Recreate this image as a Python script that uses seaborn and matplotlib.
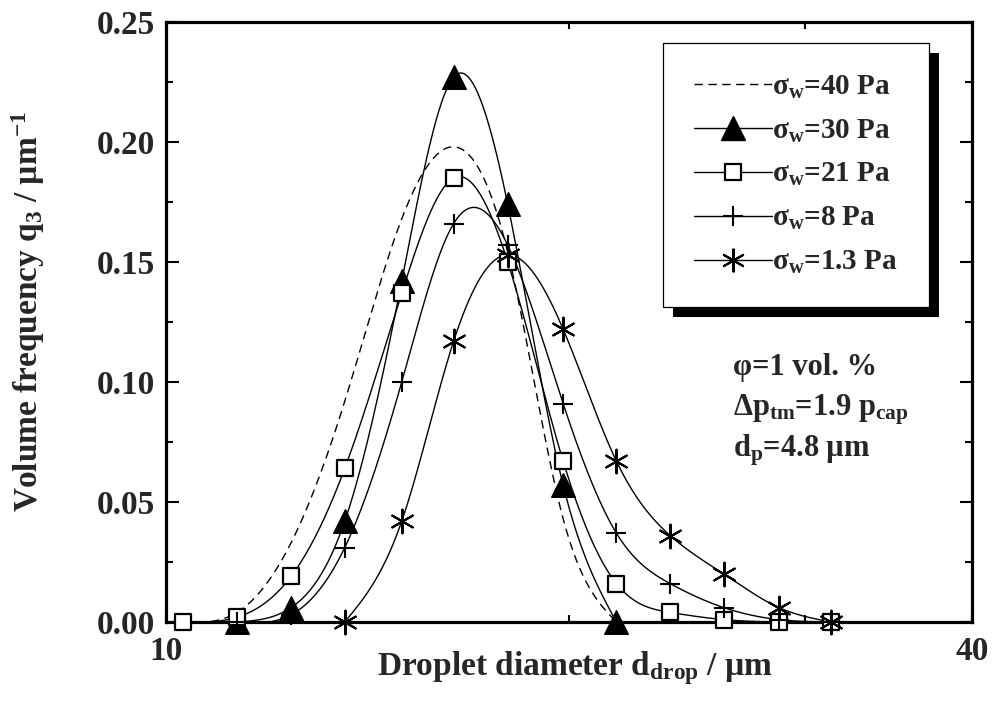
import numpy as np
import pandas as pd
import matplotlib
matplotlib.use("Agg")
import matplotlib.pyplot as plt
import seaborn as sns
from matplotlib.lines import Line2D
from matplotlib.patches import Rectangle
from matplotlib.ticker import FixedLocator, NullFormatter, MultipleLocator, FormatStrFormatter

# ---------------- data ----------------
diameters = [10.3, 11.3, 12.4, 13.6, 15.0, 16.4, 18.0, 19.8, 21.7, 23.8, 26.1, 28.7, 31.4]

d_40 = diameters[0:9]
q_40 = [0.000, 0.004, 0.033, 0.092, 0.168, 0.198, 0.154, 0.043, 0.000]

d_30 = diameters[1:9]
q_30 = [0.000, 0.006, 0.042, 0.142, 0.227, 0.174, 0.057, 0.000]

d_21 = diameters[0:13]
q_21 = [0.000, 0.002, 0.019, 0.064, 0.137, 0.185, 0.150, 0.067, 0.016, 0.004, 0.001, 0.000, 0.000]

d_8 = diameters[1:13]
q_8 = [0.000, 0.003, 0.031, 0.100, 0.166, 0.157, 0.091, 0.037, 0.016, 0.006, 0.001, 0.000]

d_13 = diameters[3:13]
q_13 = [0.000, 0.042, 0.117, 0.153, 0.122, 0.067, 0.036, 0.020, 0.006, 0.000]

series_labels = [r"$\mathregular{σ_w}$=40 Pa", r"$\mathregular{σ_w}$=30 Pa",
                 r"$\mathregular{σ_w}$=21 Pa", r"$\mathregular{σ_w}$=8 Pa",
                 r"$\mathregular{σ_w}$=1.3 Pa"]
x_tick_labels = ["10", "40"]

# ---------------- style ----------------
sns.set_style("ticks")
plt.rcParams["font.family"] = ["Liberation Serif", "DejaVu Serif"]
plt.rcParams["font.weight"] = "bold"
plt.rcParams["axes.labelweight"] = "bold"
plt.rcParams["mathtext.default"] = "regular"


def spline(xv, yv, n=400):
    """Natural cubic spline in log-x (like Origin's spline connection)."""
    x = np.log10(np.asarray(xv, float))
    y = np.asarray(yv, float)
    N = len(x)
    h = np.diff(x)
    A = np.zeros((N, N))
    b = np.zeros(N)
    A[0, 0] = 1
    A[-1, -1] = 1
    for i in range(1, N - 1):
        A[i, i - 1] = h[i - 1]
        A[i, i] = 2 * (h[i - 1] + h[i])
        A[i, i + 1] = h[i]
        b[i] = 6 * ((y[i + 1] - y[i]) / h[i] - (y[i] - y[i - 1]) / h[i - 1])
    M = np.linalg.solve(A, b)
    xs = np.linspace(x[0], x[-1], n)
    idx = np.clip(np.searchsorted(x, xs) - 1, 0, N - 2)
    x0 = x[idx]
    x1 = x[idx + 1]
    hh = x1 - x0
    t0 = x1 - xs
    t1 = xs - x0
    ys = (M[idx] * t0 ** 3 / (6 * hh) + M[idx + 1] * t1 ** 3 / (6 * hh)
          + (y[idx] / hh - M[idx] * hh / 6) * t0
          + (y[idx + 1] / hh - M[idx + 1] * hh / 6) * t1)
    return 10 ** xs, ys


W, H = 998, 713
fig = plt.figure(figsize=(W / 100, H / 100), dpi=100)
ax = fig.add_axes([166 / W, 1 - 622 / H, 806 / W, 600 / H])
ax.set_xscale("log")

line_lw = 1.0
# curves
for dv, qv, ls in [(d_40, q_40, (0, (6, 4))), (d_30, q_30, "-"), (d_21, q_21, "-"),
                   (d_8, q_8, "-"), (d_13, q_13, "-")]:
    xs, ys = spline(dv, qv)
    df = pd.DataFrame({"d": xs, "q": ys})
    sns.lineplot(data=df, x="d", y="q", ax=ax, color="black", lw=line_lw,
                 linestyle=ls, estimator=None, sort=False, legend=False, zorder=2)

# markers
sns.scatterplot(x=d_30, y=q_30, ax=ax, marker="^", s=17 ** 2, facecolor="black",
                edgecolor="black", linewidth=1.0, zorder=3, clip_on=False, legend=False)
sns.scatterplot(x=d_21, y=q_21, ax=ax, marker="s", s=12 ** 2, facecolor="white",
                edgecolor="black", linewidth=1.6, zorder=4, clip_on=False, legend=False)
sns.scatterplot(x=d_8, y=q_8, ax=ax, marker="+", s=14 ** 2, color="black",
                linewidth=1.5, zorder=5, clip_on=False, legend=False)
sns.scatterplot(x=d_13, y=q_13, ax=ax, marker=(6, 2, 0), s=17 ** 2, color="black",
                linewidth=1.5, zorder=6, clip_on=False, legend=False)

# axes
ax.set_xlim(10, 40)
ax.set_ylim(0, 0.25)
ax.xaxis.set_major_locator(FixedLocator([10, 40]))
ax.set_xticklabels(x_tick_labels)
ax.xaxis.set_minor_locator(FixedLocator([20, 30]))
ax.xaxis.set_minor_formatter(NullFormatter())
ax.yaxis.set_major_locator(MultipleLocator(0.05))
ax.yaxis.set_minor_locator(MultipleLocator(0.025))
ax.yaxis.set_major_formatter(FormatStrFormatter("%.2f"))
ax.tick_params(which="both", direction="in", top=True, right=True, width=1.5,
               color="black")
ax.tick_params(which="major", length=9, pad=8, labelsize=24)
ax.tick_params(axis="x", which="major", pad=10)
ax.tick_params(which="minor", length=5)
for s in ax.spines.values():
    s.set_linewidth(2.3)
    s.set_color("black")
for t in ax.get_xticklabels() + ax.get_yticklabels():
    t.set_fontweight("bold")

ax.set_xlabel(r"Droplet diameter $\mathregular{d_{drop}}$ / µm", fontsize=24,
              fontweight="bold")
ax.set_ylabel(r"Volume frequency $\mathregular{q_3}$ / µm$\mathregular{^{-1}}$",
              fontsize=24, fontweight="bold")
ax.xaxis.set_label_coords(0.507, -0.045)
ax.yaxis.set_label_coords(-0.148, 0.517)

# annotations
ann_fs = 22
ax.text(0.7035, 0.412, "φ=1 vol. %", transform=ax.transAxes, fontsize=ann_fs,
        fontweight="bold", va="baseline", ha="left")
ax.text(0.7035, 0.345, r"Δ$\mathregular{p_{tm}}$=1.9 $\mathregular{p_{cap}}$",
        transform=ax.transAxes, fontsize=ann_fs, fontweight="bold", va="baseline", ha="left")
ax.text(0.7035, 0.275, r"$\mathregular{d_p}$=4.8 µm", transform=ax.transAxes,
        fontsize=ann_fs, fontweight="bold", va="baseline", ha="left")

# legend
handles = [
    Line2D([], [], color="black", lw=line_lw, linestyle=(0, (6, 4))),
    Line2D([], [], color="black", lw=line_lw, marker="^", markersize=17,
           mfc="black", mec="black"),
    Line2D([], [], color="black", lw=line_lw, marker="s", markersize=12,
           mfc="white", mec="black", mew=1.6),
    Line2D([], [], color="black", lw=line_lw, marker="+", markersize=14, mew=1.5),
    Line2D([], [], color="black", lw=line_lw, marker=(6, 2, 0), markersize=17, mew=1.5),
]
leg = ax.legend(handles, series_labels, loc="upper left",
                bbox_to_anchor=(663 / W, 1 - 43 / H), bbox_transform=fig.transFigure,
                borderaxespad=0, frameon=True, fancybox=False, framealpha=1,
                edgecolor="black", handlelength=2.7, handletextpad=0.0,
                labelspacing=0.57, borderpad=1.05,
                prop={"size": 21, "weight": "bold", "family": ["Liberation Serif"]})
leg.get_frame().set_linewidth(0.9)
leg.set_zorder(10)

fig.canvas.draw()
bb = leg.get_window_extent()
inv = ax.transAxes.inverted()
(x0, y0) = inv.transform((bb.x0 + 10, bb.y0 - 10))
(x1, y1) = inv.transform((bb.x1 + 10, bb.y1 - 10))
shadow = Rectangle((x0, y0), x1 - x0, y1 - y0, transform=ax.transAxes,
                   facecolor="black", edgecolor="none", zorder=9.5, clip_on=False)
ax.add_patch(shadow)

fig.savefig("out.png", dpi=100)
